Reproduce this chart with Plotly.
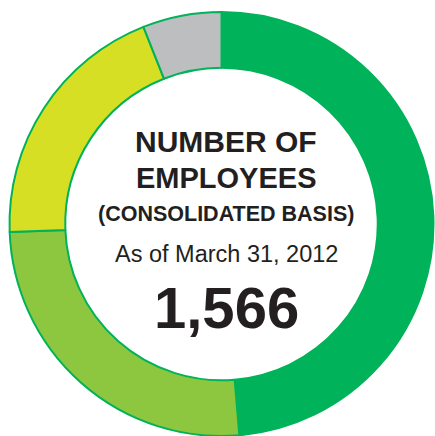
import plotly.graph_objects as go

# Employee headcount by group (total 1,566)
groups = ["Group A", "Group B", "Group C", "Group D"]
headcount = [762, 403, 307, 94]
slice_colors = ["#00b259", "#8dc63f", "#d6df23", "#bcbec0"]

total_label = "1,566"
title_lines = ["NUMBER OF", "EMPLOYEES", "(CONSOLIDATED BASIS)"]
date_label = "As of March 31, 2012"

W, H = 435, 436
ML, MR, MT, MB = 9, 1, 12, 0
PW, PH = W - ML - MR, H - MT - MB


def px_x(x):
    return (x - ML) / PW


def px_y(y):
    return 1 - (y - MT) / PH


fig = go.Figure(
    go.Pie(
        labels=groups,
        values=headcount,
        sort=False,
        direction="clockwise",
        rotation=0,
        hole=0.737,
        marker=dict(colors=slice_colors, line=dict(color="#00b259", width=2)),
        textinfo="none",
        hoverinfo="label+value+percent",
        showlegend=False,
    )
)

text_color = "#231f20"
cx = 226
annotations = [
    dict(text="<b>NUMBER OF</b>", y=141.5, size=30, family="Liberation Sans, Arial, sans-serif"),
    dict(text="<b>EMPLOYEES</b>", y=178, size=29, family="Liberation Sans, Arial, sans-serif"),
    dict(text="<b>(CONSOLIDATED BASIS)</b>", y=214, size=21.5, family="Liberation Sans, Arial, sans-serif"),
    dict(text=date_label, y=253.5, size=23.5, family="Liberation Sans, Arial, sans-serif"),
    dict(text="<b>" + total_label + "</b>", y=307.5, size=58, family="Liberation Sans, Arial, sans-serif"),
]
for a in annotations:
    fig.add_annotation(
        text=a["text"],
        x=px_x(cx),
        y=px_y(a["y"]),
        xref="paper",
        yref="paper",
        xanchor="center",
        yanchor="middle",
        showarrow=False,
        font=dict(size=a["size"], color=text_color, family=a["family"]),
    )

fig.update_layout(
    width=W,
    height=H,
    margin=dict(l=ML, r=MR, t=MT, b=MB),
    paper_bgcolor="white",
    plot_bgcolor="white",
)

fig.write_html("out.html")
